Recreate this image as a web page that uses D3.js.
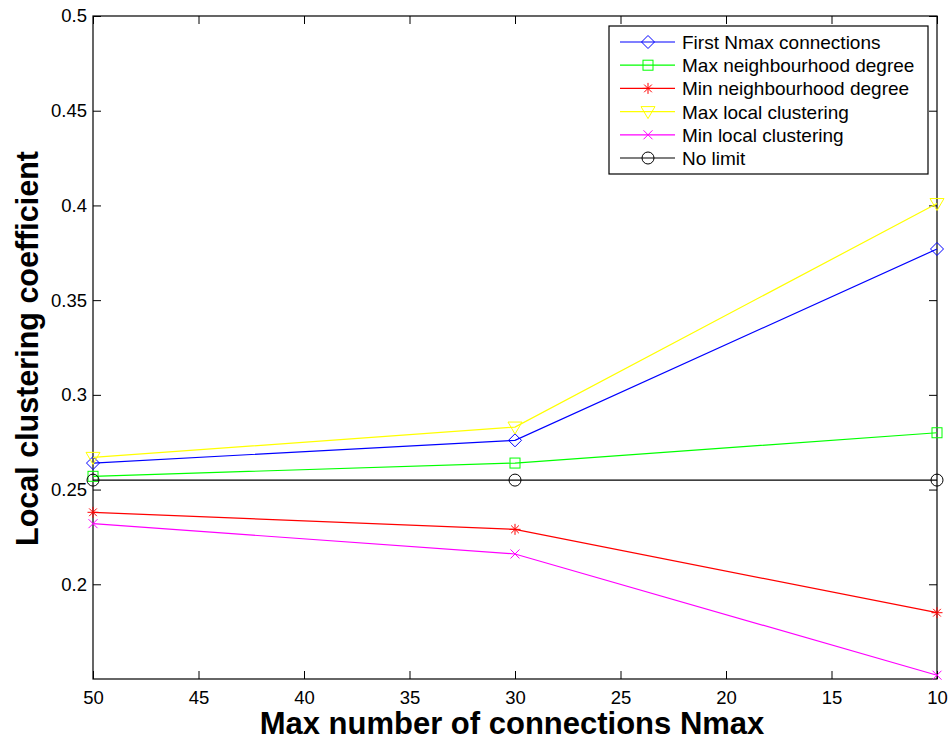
<!DOCTYPE html>
<html>
<head>
<meta charset="utf-8">
<script src="https://cdn.jsdelivr.net/npm/d3@7"></script>
<style>
  body { margin: 0; background: #fff; }
  svg { display: block; font-family: "Liberation Sans", Arial, sans-serif; }
</style>
</head>
<body>
<svg id="chart" width="949" height="740"></svg>
<script>
// x values (Nmax)
const nmax = [50, 30, 10]

const seriesNames = [
  "First Nmax connections",
  "Max neighbourhood degree",
  "Min neighbourhood degree",
  "Max local clustering",
  "Min local clustering",
  "No limit"
]
const firstNmax = [0.264, 0.276, 0.377]
const maxNeighDegree = [0.257, 0.264, 0.280]
const minNeighDegree = [0.238, 0.229, 0.185]
const maxLocalClust = [0.267, 0.283, 0.401]
const minLocalClust = [0.232, 0.216, 0.152]
const noLimit = [0.255, 0.255, 0.255]

const xTicks = [50, 45, 40, 35, 30, 25, 20, 15, 10]
const yTicks = [0.2, 0.25, 0.3, 0.35, 0.4, 0.45, 0.5]

const colors = ["#0000ff", "#00ff00", "#ff0000", "#ffff00", "#ff00ff", "#000000"]
const markers = ["diamond", "square", "star", "triangleDown", "cross", "circle"]
const allSeries = [firstNmax, maxNeighDegree, minNeighDegree, maxLocalClust, minLocalClust, noLimit]

const margin = {left: 93, top: 16, right: 12, bottom: 61}
const width = 949 - margin.left - margin.right,
      height = 740 - margin.top - margin.bottom

const svg = d3.select("#chart")
const g = svg.append("g")
    .attr("transform", "translate(" + margin.left + "," + margin.top + ")")

// scales, x reversed like the original
const x = d3.scaleLinear().domain([50, 10]).range([0, width])
const y = d3.scaleLinear().domain([0.15, 0.5]).range([height, 0])

// box + inner ticks
const tickLen = 8
const axisStyle = sel => {
    sel.select(".domain").remove()
    sel.selectAll("line").attr("stroke", "#000")
    sel.selectAll("text").attr("font-size", 18.5).attr("fill", "#000")
}

g.append("g")
    .attr("transform", "translate(0," + height + ")")
    .call(d3.axisBottom(x).tickValues(xTicks).tickSizeInner(-tickLen).tickSizeOuter(0).tickPadding(12).tickFormat(d3.format("d")))
    .call(axisStyle)
g.append("g")
    .call(d3.axisTop(x).tickValues(xTicks).tickSizeInner(-tickLen).tickSizeOuter(0).tickFormat(""))
    .call(axisStyle)
g.append("g")
    .call(d3.axisLeft(y).tickValues(yTicks).tickSizeInner(-tickLen).tickSizeOuter(0).tickPadding(6).tickFormat(d => d3.format("")(+d.toFixed(2))))
    .call(axisStyle)
g.append("g")
    .attr("transform", "translate(" + width + ",0)")
    .call(d3.axisRight(y).tickValues(yTicks).tickSizeInner(-tickLen).tickSizeOuter(0).tickFormat(""))
    .call(axisStyle)

g.append("rect")
    .attr("width", width).attr("height", height)
    .attr("fill", "none").attr("stroke", "#000").attr("stroke-width", 1.2)

// markers
function drawMarker(sel, type, color, cx, cy) {
    const s = 5
    if (type === "diamond") {
        sel.append("path").attr("d", `M${cx},${cy - 6.5}L${cx + 6.5},${cy}L${cx},${cy + 6.5}L${cx - 6.5},${cy}Z`)
            .attr("fill", "none").attr("stroke", color)
    } else if (type === "square") {
        sel.append("rect").attr("x", cx - s).attr("y", cy - s).attr("width", 2 * s).attr("height", 2 * s)
            .attr("fill", "none").attr("stroke", color)
    } else if (type === "star") {
        const r = 5.5
        const p = [[0, -r], [0, r], [-r, 0], [r, 0], [-r * .7, -r * .7], [r * .7, r * .7], [-r * .7, r * .7], [r * .7, -r * .7]]
        sel.append("path")
            .attr("d", `M${cx + p[0][0]},${cy + p[0][1]}L${cx + p[1][0]},${cy + p[1][1]}M${cx + p[4][0]},${cy + p[4][1]}L${cx + p[5][0]},${cy + p[5][1]}M${cx + p[6][0]},${cy + p[6][1]}L${cx + p[7][0]},${cy + p[7][1]}M${cx - r},${cy}L${cx + r},${cy}`)
            .attr("stroke", color).attr("fill", "none")
    } else if (type === "triangleDown") {
        sel.append("path").attr("d", `M${cx - 7},${cy - 5}L${cx + 7},${cy - 5}L${cx},${cy + 7}Z`)
            .attr("fill", "none").attr("stroke", color)
    } else if (type === "cross") {
        const r = 4.5
        sel.append("path").attr("d", `M${cx - r},${cy - r}L${cx + r},${cy + r}M${cx - r},${cy + r}L${cx + r},${cy - r}`)
            .attr("stroke", color).attr("fill", "none")
    } else if (type === "circle") {
        sel.append("circle").attr("cx", cx).attr("cy", cy).attr("r", 6)
            .attr("fill", "none").attr("stroke", color)
    }
}

const line = d3.line().x((d, i) => x(nmax[i])).y(d => y(d))

allSeries.forEach((vals, k) => {
    g.append("path")
        .datum(vals)
        .attr("d", line)
        .attr("fill", "none")
        .attr("stroke", colors[k])
        .attr("stroke-width", 1.2)
    vals.forEach((v, i) => drawMarker(g, markers[k], colors[k], x(nmax[i]), y(v)))
})

// legend
const legend = svg.append("g").attr("transform", "translate(609,26)")
legend.append("rect").attr("width", 319).attr("height", 148)
    .attr("fill", "#fff").attr("stroke", "#000").attr("stroke-width", 1.2)
seriesNames.forEach((name, k) => {
    const ly = 16 + k * 23.2
    legend.append("line").attr("x1", 11).attr("x2", 66).attr("y1", ly).attr("y2", ly)
        .attr("stroke", colors[k]).attr("stroke-width", 1.2)
    drawMarker(legend, markers[k], colors[k], 39, ly)
    legend.append("text").attr("x", 73).attr("y", ly + 7)
        .attr("font-size", 19).text(name)
})

// axis titles
svg.append("text")
    .attr("x", margin.left + width / 2 - 3).attr("y", 734)
    .attr("text-anchor", "middle").attr("font-size", 31).attr("font-weight", "bold")
    .text("Max number of connections Nmax")
svg.append("text")
    .attr("transform", "translate(38," + (margin.top + height / 2 + 1) + ") rotate(-90)")
    .attr("text-anchor", "middle").attr("font-size", 30.5).attr("font-weight", "bold")
    .text("Local clustering coefficient")
</script>
</body>
</html>
